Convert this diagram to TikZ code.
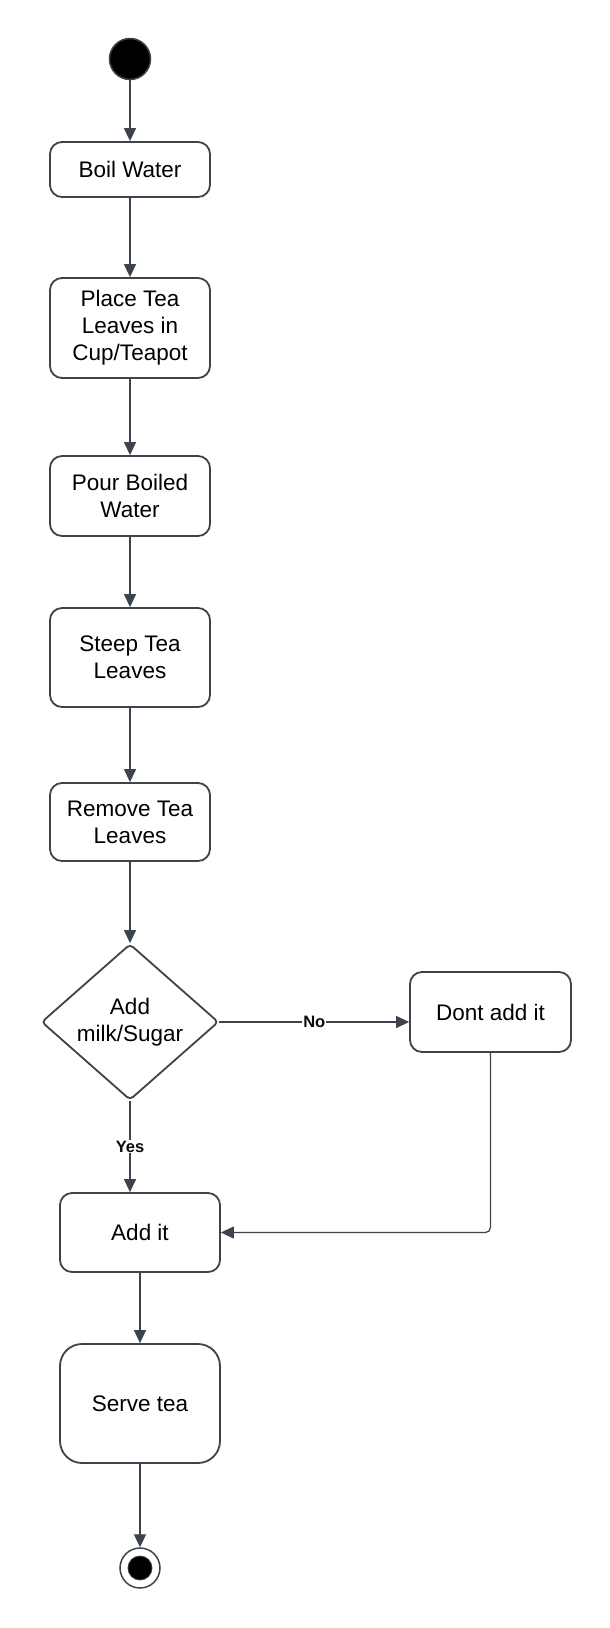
\documentclass[tikz,border=0pt]{standalone}
\usepackage{fontspec}
\setmainfont{Liberation Sans}
\usetikzlibrary{shapes.geometric,arrows.meta}
\definecolor{ln}{HTML}{3D434C}
\begin{document}
\begin{tikzpicture}[x=1pt,y=-1pt,
  box/.style={draw=ln, line width=1.8pt, rounded corners=12pt, fill=white, align=center,
    font=\fontsize{22.5}{27}\selectfont, inner sep=0pt, minimum width=160pt},
  flow/.style={draw=ln, line width=1.2pt, -{Triangle[length=13pt,width=12pt]}},
  lbl/.style={font=\bfseries\fontsize{16.5}{19}\selectfont, fill=white, inner sep=1pt, text=black!85!ln}]
\useasboundingbox (0,0) rectangle (610,1628);
\fill[white] (0,0) rectangle (610,1628);
\node[circle, fill=black, draw=ln, line width=1.5pt, minimum size=41pt, inner sep=0pt] (start) at (130,59) {};
\node[box, minimum height=55pt] (boil) at (130,169.5) {Boil Water};
\node[box, minimum height=100pt] (place) at (130,328) {Place Tea\\Leaves in\\Cup/Teapot};
\node[box, minimum height=80pt] (pour) at (130,496) {Pour Boiled\\Water};
\node[box, minimum height=99pt] (steep) at (130,657.5) {Steep Tea\\Leaves};
\node[box, minimum height=78pt] (remove) at (130,822) {Remove Tea\\Leaves};
\node[diamond, draw=ln, line width=1.8pt, rounded corners=4pt, fill=white, align=center,
  font=\fontsize{22.5}{27}\selectfont, inner sep=0pt, minimum width=177pt, minimum height=156pt,
  shape aspect=1.13] (dec) at (130,1022) {Add\\milk/Sugar};
\node[box, minimum width=161pt, minimum height=80pt] (dont) at (490.5,1012) {Dont add it};
\node[box, minimum height=79pt] (addit) at (140,1232.5) {Add it};
\node[box, minimum height=119pt, rounded corners=22pt] (serve) at (140,1403.5) {Serve tea};
\node[circle, draw=ln, line width=1.5pt, fill=white, minimum size=40pt, inner sep=0pt] (endo) at (140,1568) {};
\node[circle, fill=black, draw=ln, line width=0.8pt, minimum size=24pt, inner sep=0pt] (endi) at (140,1568) {};

\draw[flow] (start) -- (boil);
\draw[flow] (boil) -- (place);
\draw[flow] (place) -- (pour);
\draw[flow] (pour) -- (steep);
\draw[flow] (steep) -- (remove);
\draw[flow] (remove) -- (dec.north);
\draw[flow] (dec.east) -- node[lbl] {No} (dec.east -| dont.west);
\draw[flow] (dec.south) -- node[lbl] {Yes} (dec.south |- addit.north);
\draw[flow, rounded corners=5pt] (dont.south) |- (addit.east);
\draw[flow] (addit) -- (serve);
\draw[flow] (serve) -- (endo);
\end{tikzpicture}
\end{document}
